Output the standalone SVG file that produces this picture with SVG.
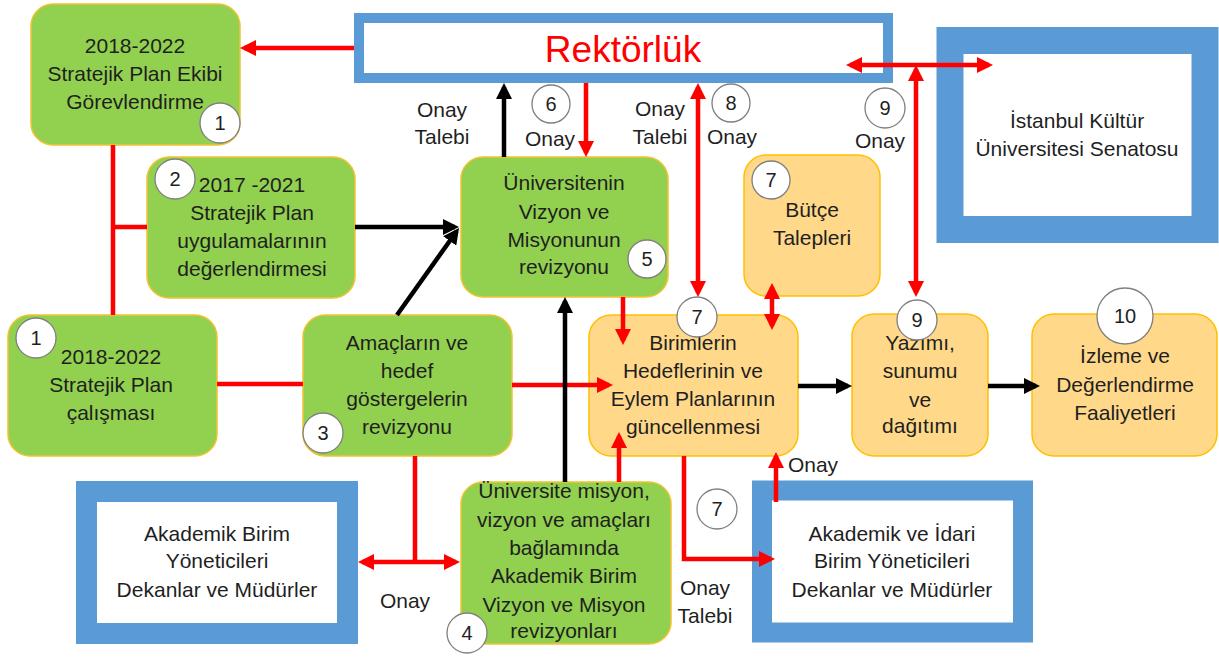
<svg xmlns="http://www.w3.org/2000/svg" width="1219" height="660" viewBox="0 0 1219 660">
<style>
.g{fill:#92D050;stroke:#F2C230;stroke-width:1.5}
.o{fill:#FFD88A;stroke:#FFC000;stroke-width:1.5}
.bl{fill:#FFFFFF;stroke:#5B9BD5}
.t{font-family:"Liberation Sans",Arial,sans-serif;font-size:21px;fill:#1f1f1f;text-anchor:middle}
.n{font-family:"Liberation Sans",Arial,sans-serif;font-size:20px;fill:#1f1f1f;text-anchor:middle}
.c{fill:#FFFFFF;stroke:#7F7F7F;stroke-width:1.3}
.r{fill:none;stroke:#FF0000;stroke-width:4.5}
.k{fill:none;stroke:#000000;stroke-width:4.5}
.ra{marker-end:url(#mr)}
.rb{marker-start:url(#mr);marker-end:url(#mr)}
.ka{marker-end:url(#mk)}
</style>
<defs>
<marker id="mr" viewBox="0 0 16 16" refX="12" refY="8" markerWidth="16" markerHeight="16" orient="auto-start-reverse" markerUnits="userSpaceOnUse"><path d="M0,0 L16,8 L0,16 z" fill="#FF0000"/></marker>
<marker id="mk" viewBox="0 0 16 16" refX="12" refY="8" markerWidth="16" markerHeight="16" orient="auto-start-reverse" markerUnits="userSpaceOnUse"><path d="M0,0 L16,8 L0,16 z" fill="#000000"/></marker>
</defs>
<rect width="1219" height="660" fill="#FFFFFF"/>

<g id="rektorluk">
<rect class="bl" x="359" y="18" width="529" height="60" stroke-width="10"/>
<text x="623" y="62" font-family="'Liberation Sans',Arial,sans-serif" font-size="37" fill="#FF0000" text-anchor="middle">Rektörlük</text>
</g>

<g id="senato">
<rect class="bl" x="950" y="40.5" width="255" height="189" stroke-width="27"/>
<text class="t" x="1077" y="128">İstanbul Kültür</text>
<text class="t" x="1077" y="156">Üniversitesi Senatosu</text>
</g>

<g id="ekip">
<rect class="g" x="31" y="4" width="209" height="141" rx="22"/>
<text class="t" x="135" y="53">2018-2022</text>
<text class="t" x="135" y="81">Stratejik Plan Ekibi</text>
<text class="t" x="135" y="109">Görevlendirme</text>
</g>

<g id="degerlendirme">
<rect class="g" x="147" y="157" width="208" height="141" rx="22"/>
<text class="t" x="252" y="192">2017 -2021</text>
<text class="t" x="252" y="220">Stratejik Plan</text>
<text class="t" x="252" y="248">uygulamalarının</text>
<text class="t" x="252" y="276">değerlendirmesi</text>
</g>

<g id="calisma">
<rect class="g" x="8" y="315" width="209" height="141" rx="22"/>
<text class="t" x="111" y="364">2018-2022</text>
<text class="t" x="111" y="392">Stratejik Plan</text>
<text class="t" x="111" y="420">çalışması</text>
</g>

<g id="amaclar">
<rect class="g" x="303" y="315" width="209" height="141" rx="22"/>
<text class="t" x="407" y="350">Amaçların ve</text>
<text class="t" x="407" y="378">hedef</text>
<text class="t" x="407" y="406">göstergelerin</text>
<text class="t" x="407" y="434">revizyonu</text>
</g>

<g id="vizyon">
<rect class="g" x="461" y="157" width="207" height="140" rx="22"/>
<text class="t" x="564" y="190">Üniversitenin</text>
<text class="t" x="564" y="219">Vizyon ve</text>
<text class="t" x="564" y="247">Misyonunun</text>
<text class="t" x="564" y="274">revizyonu</text>
</g>

<g id="birimvizyon">
<rect class="g" x="461" y="482" width="210" height="162" rx="22"/>
<text class="t" x="564" y="498">Üniversite misyon,</text>
<text class="t" x="564" y="527">vizyon ve amaçları</text>
<text class="t" x="564" y="555">bağlamında</text>
<text class="t" x="564" y="583">Akademik Birim</text>
<text class="t" x="564" y="612">Vizyon ve Misyon</text>
<text class="t" x="564" y="638">revizyonları</text>
</g>

<g id="butce">
<rect class="o" x="744" y="155" width="136" height="141" rx="22"/>
<text class="t" x="812" y="217">Bütçe</text>
<text class="t" x="812" y="245">Talepleri</text>
</g>

<g id="birimler">
<rect class="o" x="589" y="315" width="209" height="141" rx="22"/>
<text class="t" x="693" y="350">Birimlerin</text>
<text class="t" x="693" y="378">Hedeflerinin ve</text>
<text class="t" x="693" y="406">Eylem Planlarının</text>
<text class="t" x="693" y="434">güncellenmesi</text>
</g>

<g id="yazim">
<rect class="o" x="852" y="314" width="136" height="142" rx="22"/>
<text class="t" x="920" y="350">Yazımı,</text>
<text class="t" x="920" y="378">sunumu</text>
<text class="t" x="920" y="407">ve</text>
<text class="t" x="920" y="433">dağıtımı</text>
</g>

<g id="izleme">
<rect class="o" x="1032" y="314" width="185" height="142" rx="22"/>
<text class="t" x="1125" y="363">İzleme ve</text>
<text class="t" x="1125" y="392">Değerlendirme</text>
<text class="t" x="1125" y="420">Faaliyetleri</text>
</g>

<g id="akademik">
<rect class="bl" x="86.5" y="491.5" width="261" height="142" stroke-width="21"/>
<text class="t" x="217" y="541">Akademik Birim</text>
<text class="t" x="217" y="568">Yöneticileri</text>
<text class="t" x="217" y="597">Dekanlar ve Müdürler</text>
</g>

<g id="idari">
<rect class="bl" x="762" y="490.5" width="261" height="142" stroke-width="20"/>
<text class="t" x="892" y="541">Akademik ve İdari</text>
<text class="t" x="892" y="568">Birim Yöneticileri</text>
<text class="t" x="892" y="597">Dekanlar ve Müdürler</text>
</g>

<g id="connectors">
<line class="r ra" x1="354" y1="48" x2="244" y2="48"/>
<polyline class="r" points="113,145 113,315"/>
<line class="r" x1="113" y1="227" x2="147" y2="227"/>
<line class="r" x1="217" y1="384" x2="303" y2="384"/>
<line class="r ra" x1="512" y1="385" x2="609" y2="385"/>
<line class="k ka" x1="355" y1="227" x2="455" y2="227"/>
<line class="k ka" x1="397" y1="315" x2="456.7" y2="231.2"/>
<line class="k ka" x1="565" y1="482" x2="565" y2="301"/>
<line class="k ka" x1="504" y1="157" x2="504" y2="87"/>
<line class="r ra" x1="586" y1="83" x2="586" y2="153"/>
<line class="r rb" x1="698" y1="87" x2="698" y2="293"/>
<line class="r rb" x1="850" y1="65" x2="989" y2="65"/>
<line class="r rb" x1="916" y1="69" x2="916" y2="293"/>
<line class="r ra" x1="623" y1="297" x2="623" y2="341"/>
<line class="r ra" x1="619" y1="482" x2="619" y2="436"/>
<line class="r rb" x1="772" y1="287" x2="772" y2="326"/>
<line class="k ka" x1="798" y1="386" x2="848" y2="386"/>
<line class="k ka" x1="988" y1="386" x2="1036" y2="386"/>
<polyline class="r ra" points="684,456 684,559 771,559"/>
<line class="r ra" x1="776" y1="502" x2="776" y2="456"/>
<line class="r" x1="415" y1="456" x2="415" y2="562"/>
<line class="r rb" x1="362" y1="562" x2="456" y2="562"/>
</g>

<g id="labels">
<text class="t" x="442" y="117">Onay</text>
<text class="t" x="442" y="144">Talebi</text>
<text class="t" x="550" y="146">Onay</text>
<text class="t" x="660" y="116">Onay</text>
<text class="t" x="660" y="144">Talebi</text>
<text class="t" x="732" y="144">Onay</text>
<text class="t" x="880" y="148">Onay</text>
<text class="t" x="405" y="608">Onay</text>
<text class="t" x="705" y="595">Onay</text>
<text class="t" x="705" y="623">Talebi</text>
<text class="t" x="813" y="472">Onay</text>
</g>

<g id="badges">
<circle class="c" cx="220" cy="123" r="20"/><text class="n" x="220" y="130">1</text>
<circle class="c" cx="175" cy="179" r="20"/><text class="n" x="175" y="186">2</text>
<circle class="c" cx="36" cy="338" r="20"/><text class="n" x="36" y="345">1</text>
<circle class="c" cx="323" cy="433" r="20"/><text class="n" x="323" y="440">3</text>
<circle class="c" cx="467" cy="633" r="20"/><text class="n" x="467" y="640">4</text>
<circle class="c" cx="647" cy="259" r="19"/><text class="n" x="647" y="266">5</text>
<circle class="c" cx="551" cy="104" r="19"/><text class="n" x="551" y="111">6</text>
<circle class="c" cx="771" cy="180" r="19"/><text class="n" x="771" y="187">7</text>
<circle class="c" cx="731" cy="103" r="19"/><text class="n" x="731" y="110">8</text>
<circle class="c" cx="885" cy="108" r="20"/><text class="n" x="885" y="115">9</text>
<circle class="c" cx="697" cy="317" r="20"/><text class="n" x="697" y="324">7</text>
<circle class="c" cx="917" cy="320" r="20"/><text class="n" x="917" y="327">9</text>
<circle class="c" cx="1125" cy="316" r="28"/><text class="n" x="1125" y="323">10</text>
<circle class="c" cx="717" cy="509" r="20"/><text class="n" x="717" y="516">7</text>
</g>
</svg>
